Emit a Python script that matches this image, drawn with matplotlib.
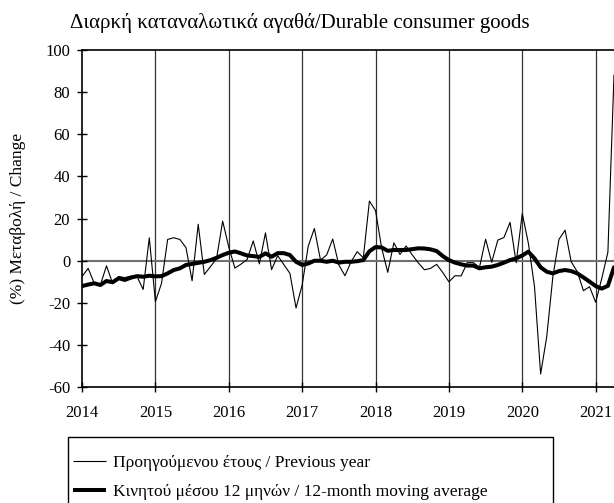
import numpy as np
import pandas as pd
import matplotlib
matplotlib.use("Agg")
import matplotlib.pyplot as plt
from matplotlib import rcParams
from matplotlib.patches import Rectangle

rcParams["font.family"] = ["Liberation Serif", "DejaVu Serif"]
rcParams["axes.unicode_minus"] = False

# monthly data, Jan 2014 - Apr 2021
months = pd.date_range("2014-01-01", periods=88, freq="MS")

prev_year = [
    -7.5, -3.6, -10.7, -11.5, -2.4, -10.7, -7.5, -8.0, -7.3, -7.6, -13.6, 10.9,
    -19.4, -10.7, 10.1, 10.9, 10.1, 6.2, -9.5, 17.3, -6.5, -2.8, 1.0, 18.8,
    6.5, -3.5, -1.6, 0.6, 9.4, -1.5, 13.2, -4.2, 2.4, -1.8, -6.0, -22.4,
    -11.5, 7.0, 15.3, 0.3, 2.7, 10.3, -2.0, -7.1, -0.5, 4.3, 1.4, 28.3,
    23.8, 6.0, -5.5, 8.5, 3.0, 7.0, 2.8, -1.0, -4.3, -3.6, -1.7, -5.6,
    -10.0, -7.1, -7.2, -0.9, -0.9, -3.2, 10.2, -0.7, 9.8, 11.0, 18.2, -0.9,
    22.4, 8.2, -12.3, -53.7, -36.0, -7.6, 10.1, 14.5, -0.5, -5.2, -14.2, -12.3,
    -19.7, -8.4, 4.0, 88.0,
]

moving_avg = [
    -12.0, -11.3, -10.7, -11.5, -9.6, -10.2, -8.3, -9.1, -8.0, -7.3, -7.6, -7.1,
    -7.4, -7.3, -6.0, -4.4, -3.6, -2.0, -1.5, -1.0, -0.5, 0.3, 1.4, 2.7,
    3.8, 4.4, 3.5, 2.5, 2.2, 1.8, 3.5, 1.9, 3.6, 3.6, 2.7, -0.5,
    -2.0, -1.3, 0.0, 0.0, -0.5, 0.0, -0.9, -0.5, -0.5, -0.2, 0.3, 4.5,
    6.5, 6.3, 4.7, 5.1, 5.1, 5.1, 5.5, 5.9, 5.8, 5.4, 4.6, 2.2,
    0.3, -0.9, -1.7, -2.3, -2.3, -3.6, -3.1, -2.8, -2.0, -0.9, 0.3, 1.1,
    2.5, 4.3, 1.1, -3.1, -5.2, -6.0, -4.9, -4.4, -4.9, -6.0, -7.9, -9.9,
    -12.0, -13.2, -11.9, -3.1,
]

year_ticks = list(range(2014, 2022))
y_ticks = list(range(-60, 101, 20))

labels = ["Προηγούμενου έτους / Previous year",
          "Κινητού μέσου 12 μηνών / 12-month moving average"]

x = months.year + (months.month - 1) / 12.0

fig = plt.figure(figsize=(6.14, 5.03), dpi=100)
ax = fig.add_axes([0.1336, 0.230, 0.8664, 0.671])

for yr in year_ticks[1:]:
    ax.axvline(yr, color="#333333", lw=0.9, zorder=1)
ax.axhline(0, color="#707070", lw=1.5, zorder=1)

ax.plot(x, prev_year, c="black", lw=0.8, zorder=3, label=labels[0])
ax.plot(x, moving_avg, c="black", lw=2.9, zorder=4, label=labels[1],
        solid_joinstyle="round", solid_capstyle="round")

ax.set_xlim(2014, 2021.25)
ax.set_ylim(-60, 100)
ax.set_xticks(year_ticks)
ax.set_yticks(y_ticks)
ax.tick_params(axis="both", direction="inout", length=7, width=1.0,
               labelsize=12)
ax.tick_params(axis="y", pad=5)
ax.tick_params(axis="x", pad=9)

for s in ["left", "bottom", "top"]:
    ax.spines[s].set_linewidth(1.2)
ax.spines["right"].set_visible(False)

ax.set_ylabel("(%) Μεταβολή / Change", fontsize=12.5)
ax.yaxis.set_label_coords(-0.105, 0.5)

fig.text(0.488, 0.955, "Διαρκή καταναλωτικά αγαθά/Durable consumer goods",
         ha="center", va="center", fontsize=15)

# legend box, cut by the bottom edge of the picture
fig.patches.append(Rectangle((68 / 614, -0.05), 485 / 614, 0.05 + 1 - 437 / 503,
                             transform=fig.transFigure, fill=False,
                             edgecolor="black", lw=1.0))

leg = fig.legend(loc="upper left", bbox_to_anchor=(70 / 614, 1 - 451 / 503),
                 fontsize=12.5, frameon=False,
                 handlelength=1.9, handletextpad=0.4, labelspacing=0.75,
                 borderpad=0.2, borderaxespad=0)
for line in leg.get_lines():
    line.set_solid_capstyle("butt")

fig.savefig("out.png", dpi=100)
